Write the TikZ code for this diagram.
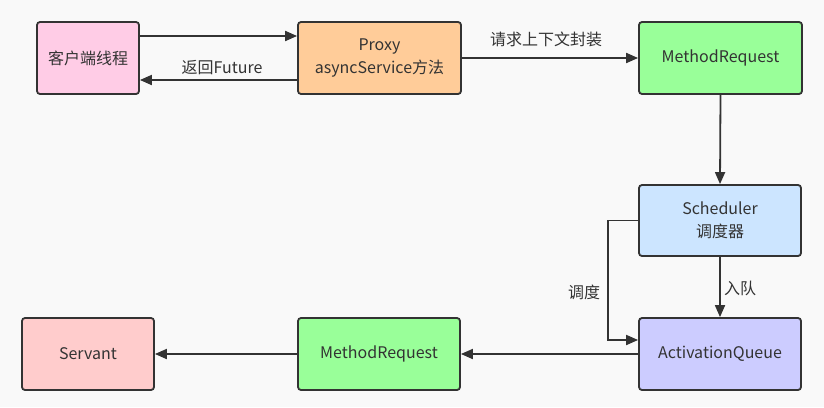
\documentclass[tikz,border=0pt]{standalone}
\usepackage{fontspec}
\setmainfont{Noto Sans CJK SC}
\usetikzlibrary{arrows.meta}

\definecolor{bgcol}{HTML}{F9F9F9}
\definecolor{linecol}{HTML}{333333}
\definecolor{txtcol}{HTML}{333333}
\definecolor{clientcol}{HTML}{FFCCE6}
\definecolor{proxycol}{HTML}{FFCC99}
\definecolor{mrcol}{HTML}{99FF99}
\definecolor{schedcol}{HTML}{CCE5FF}
\definecolor{queuecol}{HTML}{CCCCFF}
\definecolor{servcol}{HTML}{FFCCCC}

\tikzset{
  block/.style={draw=linecol, line width=1.8pt, rounded corners=3pt,
    minimum height=72pt, inner sep=0pt, align=center, text=txtcol,
    font=\fontsize{16}{23}\selectfont},
  link/.style={draw=linecol, line width=1.8pt, -{Triangle[length=12pt,width=10pt]}},
  tag/.style={text=txtcol, font=\fontsize{16}{18}\selectfont, inner sep=0pt},
}

\begin{document}
\begin{tikzpicture}[x=1pt, y=-1pt]
		%%%%% START %%%%%
		
		\fill[bgcol] (0, 0) rectangle (824, 407);
		\useasboundingbox (0, 0) rectangle (824, 407);
		
		\node[block, fill=clientcol, minimum width=102pt] (client) at (88, 58) {客户端线程};
		\node[block, fill=proxycol, minimum width=163pt] (proxy) at (379.5, 58) {Proxy\\asyncService方法};
		\node[block, fill=mrcol, minimum width=163pt] (mrtop) at (720.5, 58) {MethodRequest};
		
		\node[block, fill=schedcol, minimum width=162pt, minimum height=71pt] (sched) at (720, 220.5) {Scheduler\\调度器};
		
		\node[block, fill=queuecol, minimum width=162pt] (queue) at (720, 354) {ActivationQueue};
		\node[block, fill=mrcol, minimum width=162pt] (mrbot) at (379, 354) {MethodRequest};
		\node[block, fill=servcol, minimum width=132pt] (servant) at (88, 354) {Servant};
		
		\draw[link] ([yshift=22pt]client.east) -- ([yshift=22pt]proxy.west);
		\draw[link] ([yshift=-22pt]proxy.west) -- ([yshift=-22pt]client.east);
		\node[tag] (lret) at (222, 68) {返回Future};
		
		\draw[link] (proxy.east) -- (mrtop.west);
		\node[tag] (lwrap) at (546, 39) {请求上下文封装};
		
		\draw[link] (mrtop.south) -- (sched.north);
		\draw[link] (sched.south) -- (queue.north);
		\node[tag] (lenq) at (740, 288) {入队};
		
		\draw[link] (sched.west) -- ++(-30, 0) |- ([yshift=14pt]queue.west);
		\node[tag] (ldisp) at (584, 292) {调度};
		
		\draw[link] (queue.west) -- (mrbot.east);
		\draw[link] (mrbot.west) -- (servant.east);
		
		%%%%% END %%%%%
\end{tikzpicture}
\end{document}
